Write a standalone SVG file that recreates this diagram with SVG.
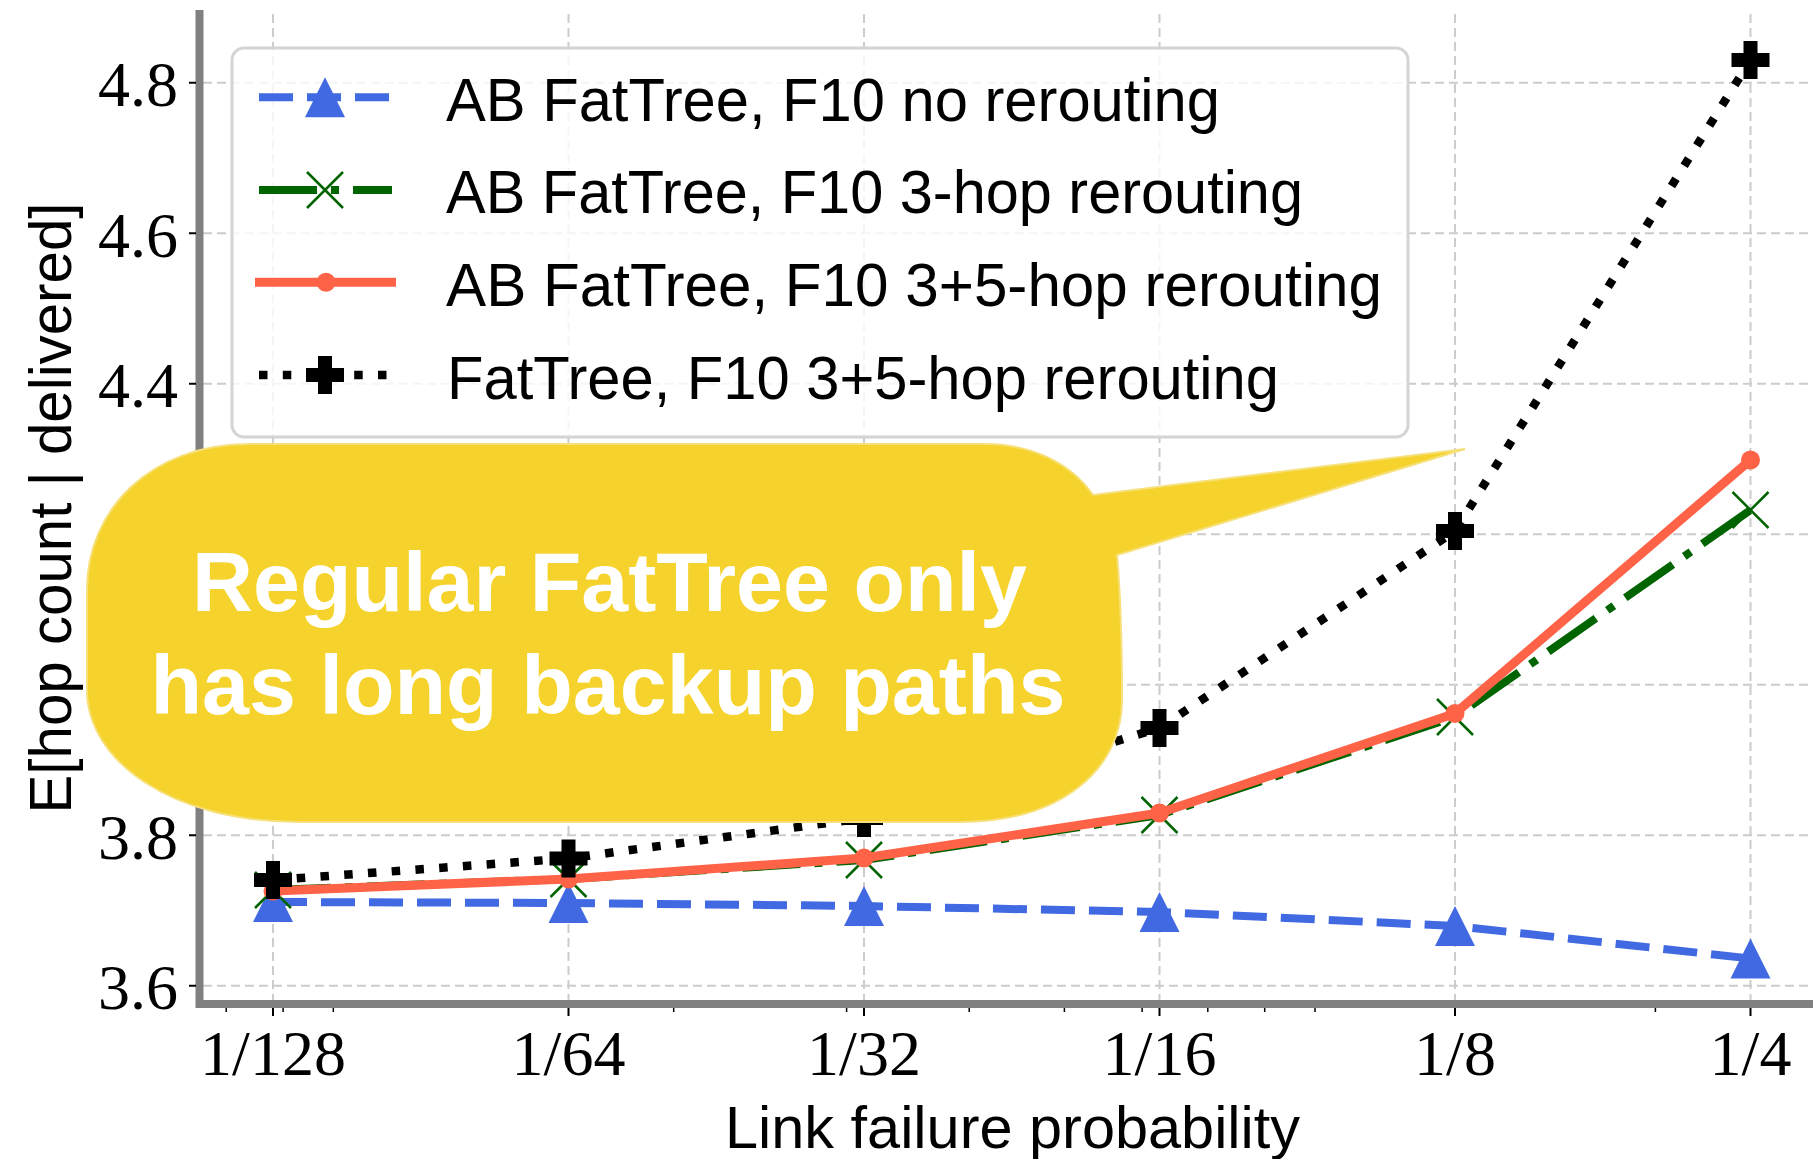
<svg xmlns="http://www.w3.org/2000/svg" width="1813" height="1159" viewBox="0 0 1813 1159">
  <style>
    .grid { stroke: #cccccc; stroke-width: 2; stroke-dasharray: 9 5; fill: none; }
    .spine { stroke: #808080; stroke-width: 8; fill: none; }
    .tick { stroke: #000; stroke-width: 2; }
    .minor { stroke: #000; stroke-width: 1.5; }
    .ticklbl { font-family: 'Liberation Serif', 'Times New Roman', serif; font-size: 64px; fill: #000; }
    .axlbl { font-family: 'Liberation Sans', Arial, sans-serif; font-size: 60px; fill: #000; }
    .leg { font-family: 'Liberation Sans', Arial, sans-serif; font-size: 62px; fill: #000; }
    .note { font-family: 'Liberation Sans', Arial, sans-serif; font-size: 84px; font-weight: bold; fill: #fff; text-anchor: middle; }
    .l-blue { stroke: #4169E1; stroke-width: 8; stroke-dasharray: 34 14; fill: none; }
    .l-green { stroke: #006400; stroke-width: 8; stroke-dasharray: 58 14 8 14; fill: none; }
    .l-red { stroke: #FF6347; stroke-width: 9; fill: none; stroke-linejoin: round; }
    .l-black { stroke: #000; stroke-width: 8.5; stroke-dasharray: 8.5 15.3; fill: none; }
  </style>
  <defs>
    <path id="m-tri" d="M0,-20 L20,20 L-20,20 Z" fill="#4169E1"/>
    <path id="m-x" d="M-18,-18 L18,18 M-18,18 L18,-18" stroke="#006400" stroke-width="2.5" fill="none"/>
    <circle id="m-dot" r="9.5" fill="#FF6347"/>
    <path id="m-plus" d="M-7,-19 H7 V-7 H19 V7 H7 V19 H-7 V7 H-19 V-7 H-7 Z" fill="#000"/>
  </defs>

  <rect width="1813" height="1159" fill="#fff"/>

  <!-- grid -->
  <g id="grid" class="grid">
    <path d="M273,14 V1000 M568.5,14 V1000 M864,14 V1000 M1159.5,14 V1000 M1455,14 V1000 M1750.5,14 V1000"/>
    <path d="M203,985.7 H1813 M203,835.2 H1813 M203,684.7 H1813 M203,534.2 H1813 M203,383.7 H1813 M203,233.2 H1813 M203,82.7 H1813"/>
  </g>

  <!-- axes -->
  <g id="axes">
    <path class="spine" d="M199.5,10 V1008 M195.5,1004 H1813"/>
    <path class="tick" d="M189,985.7 H196 M189,835.2 H196 M189,684.7 H196 M189,534.2 H196 M189,383.7 H196 M189,233.2 H196 M189,82.7 H196"/>
    <path class="tick" d="M273,1008 V1016 M568.5,1008 V1016 M864,1008 V1016 M1159.5,1008 V1016 M1455,1008 V1016 M1750.5,1008 V1016"/>
    <path class="minor" d="M226.2,1008 V1012 M283.1,1008 V1012 M333.3,1008 V1012 M673.7,1008 V1012 M846.6,1008 V1012 M969.2,1008 V1012 M1064.4,1008 V1012 M1142.1,1008 V1012 M1207.8,1008 V1012 M1264.7,1008 V1012 M1315,1008 V1012 M1655.4,1008 V1012"/>
    <g class="ticklbl" text-anchor="end">
      <text x="178" y="106">4.8</text>
      <text x="178" y="256.5">4.6</text>
      <text x="178" y="407">4.4</text>
      <text x="178" y="858.5">3.8</text>
      <text x="178" y="1009">3.6</text>
    </g>
    <g class="ticklbl" text-anchor="middle">
      <text x="273" y="1075">1/128</text>
      <text x="568.5" y="1075">1/64</text>
      <text x="864" y="1075">1/32</text>
      <text x="1159.5" y="1075">1/16</text>
      <text x="1455" y="1075">1/8</text>
      <text x="1750.5" y="1075">1/4</text>
    </g>
    <text class="axlbl" x="725" y="1148" textLength="575" lengthAdjust="spacingAndGlyphs">Link failure probability</text>
    <text class="axlbl" transform="translate(71,508) rotate(-90)" text-anchor="middle" textLength="611" lengthAdjust="spacingAndGlyphs">E[hop count | delivered]</text>
  </g>

  <!-- data series -->
  <g id="series-ab-f10-none">
    <polyline class="l-blue" points="273,902 568.5,903 864,906 1159.5,912 1455,926 1750.5,958.5"/>
    <use href="#m-tri" x="273" y="902"/>
    <use href="#m-tri" x="568.5" y="903"/>
    <use href="#m-tri" x="864" y="906"/>
    <use href="#m-tri" x="1159.5" y="912"/>
    <use href="#m-tri" x="1455" y="926"/>
    <use href="#m-tri" x="1750.5" y="958.5"/>
  </g>
  <g id="series-ab-f10-3hop">
    <polyline class="l-green" points="273,890 568.5,879 864,860 1159.5,815 1455,717 1750.5,510"/>
    <use href="#m-x" x="273" y="890"/>
    <use href="#m-x" x="568.5" y="879"/>
    <use href="#m-x" x="864" y="860"/>
    <use href="#m-x" x="1159.5" y="815"/>
    <use href="#m-x" x="1455" y="717"/>
    <use href="#m-x" x="1750.5" y="510"/>
  </g>
  <g id="series-ab-f10-35hop">
    <polyline class="l-red" points="273,891 568.5,879 864,858 1159.5,813 1455,713.5 1750.5,460"/>
    <use href="#m-dot" x="273" y="891"/>
    <use href="#m-dot" x="568.5" y="879"/>
    <use href="#m-dot" x="864" y="858"/>
    <use href="#m-dot" x="1159.5" y="813"/>
    <use href="#m-dot" x="1455" y="713.5"/>
    <use href="#m-dot" x="1750.5" y="460"/>
  </g>
  <g id="series-fattree-f10-35hop">
    <polyline class="l-black" points="273,880 568.5,858.5 864,818 1159.5,728 1455,531 1750.5,60"/>
    <use href="#m-plus" x="273" y="880"/>
    <use href="#m-plus" x="568.5" y="858.5"/>
    <use href="#m-plus" x="864" y="818"/>
    <use href="#m-plus" x="1159.5" y="728"/>
    <use href="#m-plus" x="1455" y="531"/>
    <use href="#m-plus" x="1750.5" y="60"/>
  </g>

  <!-- legend -->
  <g id="legend">
    <rect x="232" y="48" width="1176" height="389" rx="12" fill="#fff" fill-opacity="0.8" stroke="#d4d4d4" stroke-width="3"/>
    <path class="l-blue" d="M259,97.3 H389"/>
    <use href="#m-tri" x="325" y="97.3"/>
    <path class="l-green" d="M259,190 H392"/>
    <use href="#m-x" x="325" y="190"/>
    <path class="l-red" d="M255,282.3 H396"/>
    <use href="#m-dot" x="326" y="282.3"/>
    <path class="l-black" d="M259,375 H389"/>
    <use href="#m-plus" x="325" y="375"/>
    <text class="leg" x="446" y="120.5" textLength="774" lengthAdjust="spacingAndGlyphs">AB FatTree, F10 no rerouting</text>
    <text class="leg" x="446" y="213.2" textLength="857" lengthAdjust="spacingAndGlyphs">AB FatTree, F10 3-hop rerouting</text>
    <text class="leg" x="446" y="306" textLength="936" lengthAdjust="spacingAndGlyphs">AB FatTree, F10 3+5-hop rerouting</text>
    <text class="leg" x="447" y="398.5" textLength="832" lengthAdjust="spacingAndGlyphs">FatTree, F10 3+5-hop rerouting</text>
  </g>

  <!-- callout balloon -->
  <g id="callout">
    <path d="M250,444 L985,444 C1030,444 1070,462 1093,495 L1465,449 L1117,555 C1121,600 1122,650 1122,700 C1122,770 1060,822 960,822 L300,822 C170,822 87,760 87,690 L87,590 C87,510 150,444 250,444 Z" fill="#F5D32C" stroke="#F7E07A" stroke-width="2"/>
    <text class="note" x="609.5" y="611" textLength="835" lengthAdjust="spacingAndGlyphs">Regular FatTree only</text>
    <text class="note" x="608" y="714" textLength="915" lengthAdjust="spacingAndGlyphs">has long backup paths</text>
  </g>
</svg>
